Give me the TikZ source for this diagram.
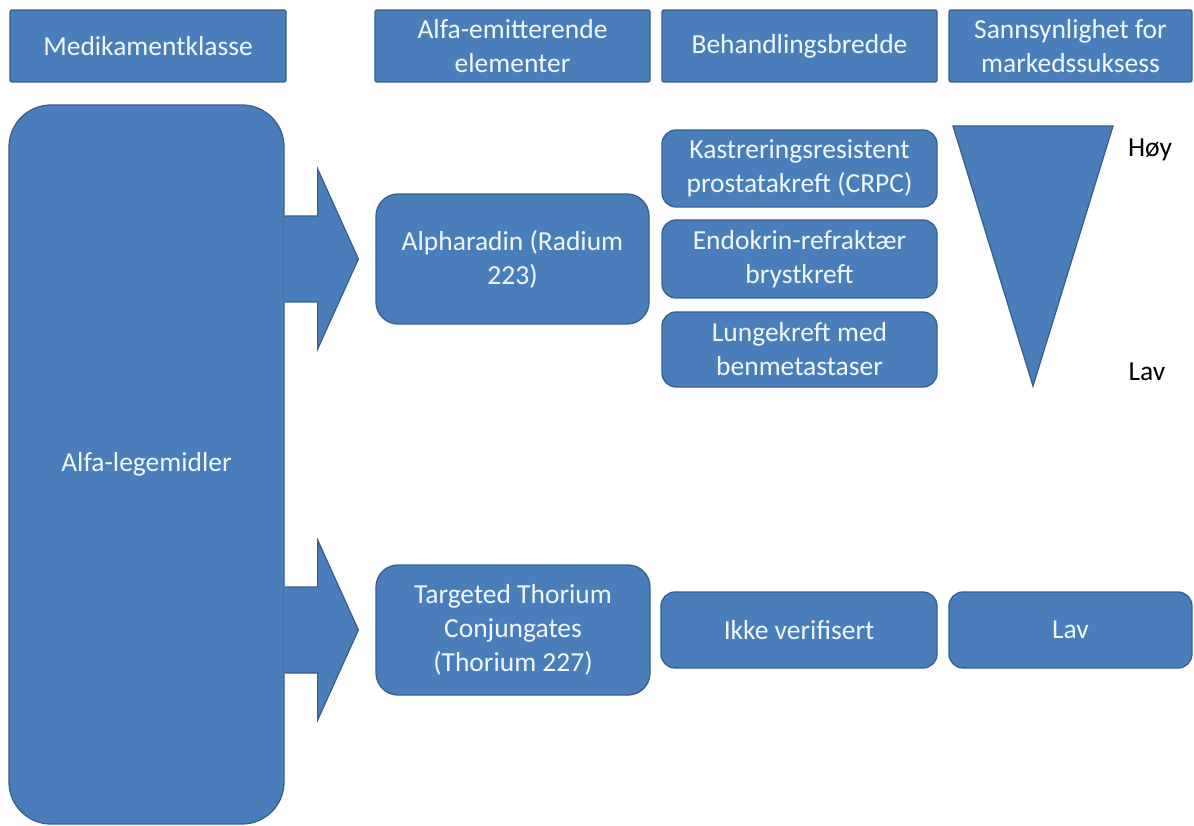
\documentclass[tikz,border=0pt]{standalone}
\usepackage{fontspec}
\setmainfont{Carlito}
\usetikzlibrary{calc}
\definecolor{boxfill}{HTML}{4A7EBB}
\definecolor{boxline}{HTML}{3A5F8F}
\definecolor{boxtext}{HTML}{F2F7FF}
\tikzset{
  boxbase/.style={rectangle, fill=boxfill, draw=boxline, line width=1.3pt, text=boxtext,
    align=center, inner sep=2pt, font=\fontsize{27.5}{34}\selectfont},
  headbox/.style={boxbase, rounded corners=2pt},
  roundbox/.style={boxbase, rounded corners=14pt},
  bigbox/.style={boxbase, rounded corners=42pt},
  sidelabel/.style={text=black, font=\fontsize{27.5}{34}\selectfont},
  blockarrow/.style={fill=boxfill},
  blockedge/.style={draw=boxline, line width=1.3pt, line join=miter}
}
\begin{document}
\begin{tikzpicture}[x=1pt, y=-1pt]
\useasboundingbox (0,0) rectangle (1194,826);
% headers
\node[headbox, minimum width=276, minimum height=72] (h1) at (148,46) {Medikamentklasse};
\node[headbox, minimum width=275, minimum height=72] (h2) at (512.5,46) {Alfa-emitterende\\elementer};
\node[headbox, minimum width=275, minimum height=72] (h3) at (799.5,46) {Behandlingsbredde};
\node[headbox, minimum width=243, minimum height=72] (h4) at (1070.5,46) {Sannsynlighet for\\markedssuksess};
% big class box
\node[bigbox, minimum width=275, minimum height=719] (big) at (146.5,464.5) {Alfa-legemidler};
% elements
\node[roundbox, rounded corners=22pt, minimum width=273, minimum height=130] (alpha) at (512.5,259) {Alpharadin (Radium\\223)};
\node[roundbox, rounded corners=22pt, minimum width=274, minimum height=130] (thor) at (513,630) {Targeted Thorium\\Conjungates\\(Thorium 227)};
% breadth
\node[roundbox, minimum width=275, minimum height=77] (kastr) at (799.5,168.5) {Kastreringsresistent\\prostatakreft (CRPC)};
\node[roundbox, minimum width=275, minimum height=78] (endo) at (799.5,259) {Endokrin-refraktær\\brystkreft};
\node[roundbox, minimum width=275, minimum height=75] (lunge) at (799.5,349.5) {Lungekreft med\\benmetastaser};
\node[roundbox, minimum width=276, minimum height=76] (ikke) at (799,630) {Ikke verifisert};
\node[roundbox, minimum width=243, minimum height=76] (lavbox) at (1070.5,630) {Lav};
% probability triangle
\coordinate (tl) at (953,126);
\coordinate (tr) at (1113,126);
\coordinate (tb) at (1033,386);
\filldraw[fill=boxfill, draw=boxline, line width=1.3pt, line join=miter] (tl) -- (tr) -- (tb) -- cycle;
\node[sidelabel] (hoy) at (1150,150) {Høy};
\node[sidelabel] (lavlbl) at (1147,372) {Lav};
% block arrows
\foreach \target/\nm in {alpha/a1, thor/a2}{
  \coordinate (\nm s) at (big.east |- \target.west);
  \fill[blockarrow] ($(\nm s)+(-1,-43)$) -- ++(34,0) -- ++(0,-47) -- ($(\target.west)+(-17,0)$)
     -- ($(\nm s)+(33,90)$) -- ++(0,-47) -- ++(-34,0) -- cycle;
  \draw[blockedge] ($(\nm s)+(0,-43)$) -- ++(33,0) -- ++(0,-47) -- ($(\target.west)+(-17,0)$)
     -- ($(\nm s)+(33,90)$) -- ++(0,-47) -- ++(-33,0);
}
\end{tikzpicture}
\end{document}
